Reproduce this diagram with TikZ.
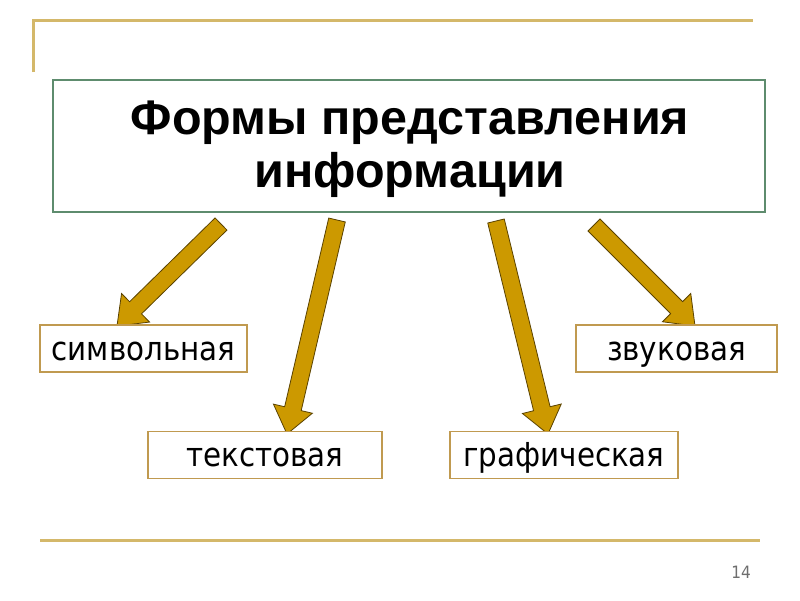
\documentclass[tikz,border=0pt]{standalone}
\usepackage{fontspec}
\setmainfont{Liberation Sans}
\newfontfamily\verd[FakeStretch=0.89]{DejaVu Sans}
\newfontfamily\numfont[FakeStretch=0.9]{DejaVu Sans}
\usetikzlibrary{calc,backgrounds}
\definecolor{goldline}{HTML}{D4B86A}
\definecolor{mainborder}{HTML}{5E8C6E}
\definecolor{childborder}{HTML}{C09A50}
\definecolor{arrowfill}{HTML}{CC9900}
\definecolor{arrowedge}{HTML}{5A4200}
\definecolor{numgray}{HTML}{6E6E6E}
\tikzset{
  deco/.style={draw=goldline, line width=3pt},
  mainbox/.style={draw=mainborder, line width=2pt, fill=white, minimum width=712pt, minimum height=132pt, align=center, font=\bfseries\fontsize{48.5}{53}\selectfont, inner sep=0pt},
  childbox/.style={draw=childborder, line width=1.5pt, fill=white, minimum height=47pt, inner sep=0pt, text height=27pt, text depth=4pt, font=\verd\fontsize{33}{38}\selectfont},
  fatarrow/.style={fill=arrowfill, draw=arrowedge, line width=0.8pt, line join=miter}
}
\newcommand{\fatarr}[2]{%
  \filldraw[fatarrow]
    ($(#1)!8.5pt!90:(#2)$) --
    ($($(#2)!26pt!(#1)$)!8.5pt!90:(#2)$) --
    ($($(#2)!26pt!(#1)$)!20pt!90:(#2)$) --
    (#2) --
    ($($(#2)!26pt!(#1)$)!20pt!-90:(#2)$) --
    ($($(#2)!26pt!(#1)$)!8.5pt!-90:(#2)$) --
    ($(#1)!8.5pt!-90:(#2)$) -- cycle;
}
\begin{document}
\begin{tikzpicture}[x=1pt,y=-1pt]
\useasboundingbox (0,0) rectangle (800,600);
% decoration lines
\coordinate (d1) at (33,20);
\coordinate (d2) at (753,20);
\coordinate (d3) at (33,72);
\draw[deco] (d3) -- (d1) -- (d2);
\coordinate (d4) at (40,540);
\coordinate (d5) at (760,540);
\draw[deco] (d4) -- (d5);
% main box
\node[mainbox] (main) at (409,146) {};
\node[font=\bfseries\fontsize{48.5}{53}\selectfont, align=center, inner sep=0pt] (title) at (410,149) {Формы представления\\информации};
% child boxes
\node[childbox, minimum width=207pt] (sym) at (143.5,348.5) {символьная};
\node[childbox, minimum width=234pt] (txt) at (265,455) {текстовая};
\node[childbox, minimum width=228pt] (gra) at (564,455) {графическая};
\node[childbox, minimum width=201pt] (snd) at (676.5,348.5) {звуковая};
% arrow ends
\coordinate (t1) at (221,224);
\coordinate (h1) at (117,326);
\coordinate (t2) at (337,220);
\coordinate (h2) at (287,434);
\coordinate (t3) at (496,221);
\coordinate (h3) at (548,434);
\coordinate (t4) at (594,225);
\coordinate (h4) at (695,326);
\begin{scope}[on background layer]
\fill[white] (0,0) rectangle (800,600);
\fatarr{t1}{h1}
\fatarr{t2}{h2}
\fatarr{t3}{h3}
\fatarr{t4}{h4}
\end{scope}
% page number
\node[text=numgray, font=\numfont\fontsize{17}{19}\selectfont, inner sep=0pt] (num) at (741,572) {14};
\end{tikzpicture}
\end{document}
